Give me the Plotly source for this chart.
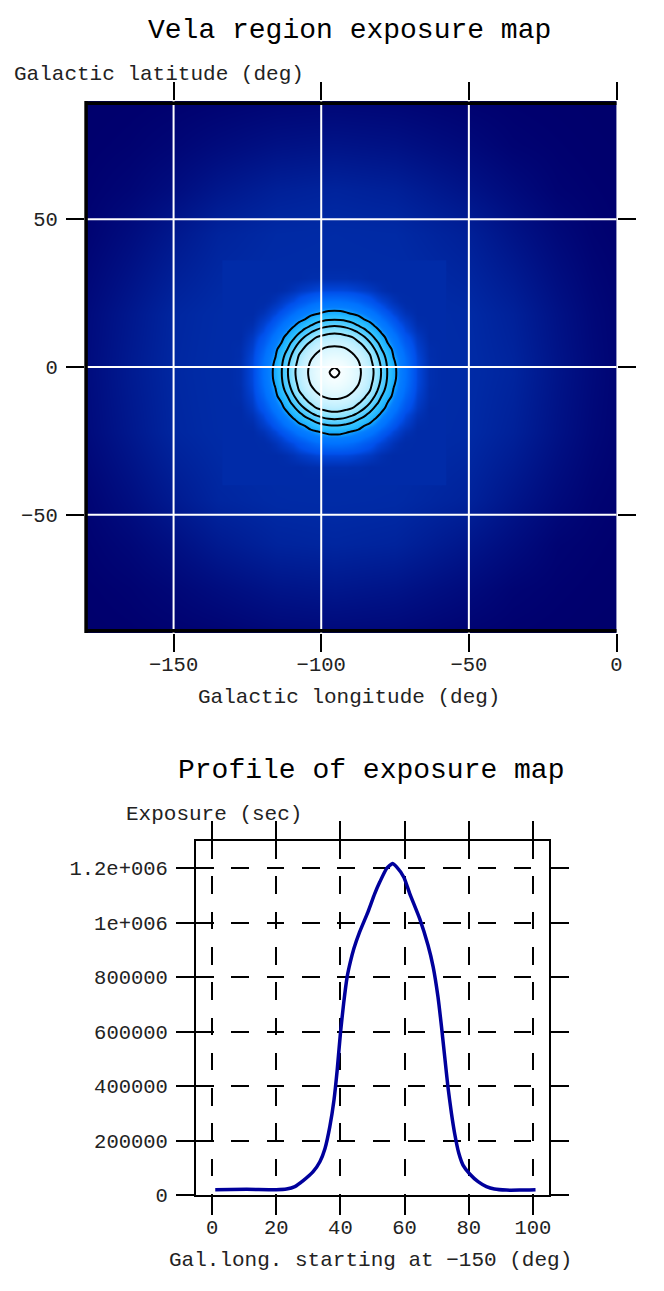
import numpy as np
import plotly.graph_objects as go

WIDTH = 664
HEIGHT = 1291
FONT = "Liberation Mono"
TEXT_COLOR = "#222222"

# broad exposure of the map, thousands of seconds, one row per latitude node
bg_lon = [-180, -165, -150, -135, -115, -95.5, -75, -50, -35, -20, -8, 0]
bg_lat = [-90, -75, -60, -45, -22, -1.9, 18, 45, 60, 75, 90]
bg_exposure_k = [
    [3.4, 3.9, 4.6, 5.3, 7, 7.5, 7, 5, 4.2, 3.7, 3.2, 3],
    [3.9, 4.9, 6.7, 9, 11.8, 12.8, 11.7, 8.2, 5.6, 4.5, 3.8, 3.5],
    [4.7, 6.9, 10.2, 14, 17.5, 18.4, 17.4, 12.5, 9, 5.5, 4.5, 3.9],
    [5.6, 9.5, 14.2, 18.3, 20.3, 20.7, 20.2, 17, 12.3, 8, 5.3, 4.5],
    [8, 13, 18.4, 20.6, 21.5, 21.5, 21.5, 20, 16.5, 11, 7, 5.3],
    [8.5, 14, 19, 21, 21.5, 21.5, 21.5, 20.5, 17.9, 11.9, 7.7, 5.5],
    [8, 13, 18.4, 20.6, 21.5, 21.5, 21.5, 20, 16.5, 11, 7, 5.3],
    [5.2, 8.8, 13.3, 17.5, 19.9, 20.4, 19.9, 16, 11.5, 7.5, 5, 4.2],
    [4.4, 6.2, 9.2, 12.8, 16.2, 17.5, 16.2, 11.5, 8.2, 5.2, 4.3, 3.8],
    [3.7, 4.6, 6.2, 8.3, 10.6, 11.5, 10.6, 7.5, 5.2, 4.3, 3.6, 3.3],
    [3.2, 3.7, 4.3, 5, 6, 6.5, 6, 4.6, 4, 3.5, 3.1, 3],
]

# bright spot: one quadrant, offsets in deg from the centre, mirrored below
core_lon0 = -95.5
core_lat0 = -1.9
core_offsets = [0, 2, 4, 6, 8, 10, 12, 14, 16, 18, 20, 22, 24, 28, 32, 36]
core_quadrant_k = [
    [1235, 1193, 1145, 1090, 1035, 961, 871, 756, 580, 386, 243, 150, 100, 43, 24, 21],
    [1193, 1173, 1132, 1081, 1027, 953, 863, 744, 568, 378, 236, 148, 99, 43, 24, 21],
    [1145, 1132, 1099, 1057, 1005, 930, 840, 708, 531, 354, 214, 141, 95, 42, 24, 21],
    [1090, 1081, 1057, 1019, 961, 888, 804, 650, 471, 316, 190, 130, 88, 40, 23, 21],
    [1035, 1027, 1005, 961, 905, 833, 720, 568, 394, 264, 166, 115, 79, 37, 23, 21],
    [961, 953, 930, 888, 833, 744, 616, 460, 324, 201, 141, 97, 68, 34, 22, 21],
    [871, 863, 840, 804, 720, 616, 483, 354, 243, 163, 117, 83, 58, 31, 21, 21],
    [756, 744, 708, 650, 568, 460, 354, 257, 176, 130, 93, 67, 46, 27, 21, 21],
    [580, 568, 531, 471, 394, 324, 243, 176, 134, 99, 74, 53, 39, 24, 21, 21],
    [386, 378, 354, 316, 264, 201, 163, 130, 99, 77, 57, 41, 33, 22, 21, 21],
    [243, 236, 214, 190, 166, 141, 117, 93, 74, 57, 42, 34, 27, 21, 21, 21],
    [150, 148, 141, 130, 115, 97, 83, 67, 53, 41, 34, 28, 23, 21, 21, 21],
    [100, 99, 95, 88, 79, 68, 58, 46, 39, 33, 27, 23, 21.5, 21, 21, 21],
    [43, 43, 42, 40, 37, 34, 31, 27, 24, 22, 21, 21, 21, 21, 21, 21],
    [24, 24, 24, 23, 23, 22, 21, 21, 21, 21, 21, 21, 21, 21, 21, 21],
    [21, 21, 21, 21, 21, 21, 21, 21, 21, 21, 21, 21, 21, 21, 21, 21],
]

contour_start_k = 200
contour_end_k = 1200
contour_step_k = 200

# colour table of the map, exposure in thousands of seconds
color_levels_k = [0, 4, 10, 20, 30, 50, 100, 150, 200, 300, 500, 700, 900, 1100, 1235]
color_values = ["#000064", "#00006e", "#000f82", "#002aa5", "#0037be", "#0050eb", "#0073ff", "#0580ff",
                "#14a8ff", "#28bcff", "#50ccff", "#8ae3ff", "#c2f0ff", "#e8fbff", "#ffffff"]

# profile through the map
profile_x = [1, 10.8, 20, 23.2, 25.8, 28.4, 31.5, 33.6, 35.2, 36.7, 38, 39, 40, 41, 42.1, 43.1, 44.2,
             46, 48.6, 50.7, 52.3, 54.4, 56.2, 57.5, 59.8, 61.6, 64.7, 67.3, 68.9, 70.4, 71.5, 72.5,
             73.5, 74.6, 75.6, 76.9, 78.2, 80.3, 82.9, 85.5, 88, 91.7, 95.8, 100.8]
profile_y = [19600, 20800, 19600, 22000, 30600, 52600, 85600, 122000, 171000, 251000, 349000, 459000,
             593000, 703000, 801000, 856000, 905000, 966000, 1040000, 1107000, 1150000, 1199000,
             1217000, 1205000, 1166000, 1107000, 1015000, 917000, 838000, 728000, 618000, 508000,
             398000, 300000, 226000, 153000, 110000, 77000, 49000, 31000, 22000, 18000, 18000, 19600]

map_xticks = [-150, -100, -50, 0]
map_yticks = [-50, 0, 50]
profile_xticks = [0, 20, 40, 60, 80, 100]
profile_yticks = [0, 200000, 400000, 600000, 800000, 1000000, 1200000]
profile_yticktext = ["0", "200000", "400000", "600000", "800000", "1e+006", "1.2e+006"]


def px_x(px):
    return px / WIDTH


def px_y(px):
    return 1 - px / HEIGHT


def add_text(fig, text, left, center_y, size, color=TEXT_COLOR):
    fig.add_annotation(text=text, xref="paper", yref="paper", x=px_x(left), y=px_y(center_y),
                       xanchor="left", yanchor="middle", showarrow=False,
                       font=dict(family=FONT, size=size, color=color))


# mirror the quadrant of the bright spot to the whole spot
offsets = np.array(core_offsets)
both_sides = np.concatenate([-offsets[:0:-1], offsets])
core_lon = core_lon0 + both_sides
core_lat = core_lat0 + both_sides
quadrant = np.array(core_quadrant_k)
half = np.hstack([quadrant[:, :0:-1], quadrant])
core_z = np.vstack([half[:0:-1], half]) * 1000
bg_z = np.array(bg_exposure_k) * 1000

colorscale = [[lv / color_levels_k[-1], c] for lv, c in zip(color_levels_k, color_values)]
zmax = color_levels_k[-1] * 1000

fig = go.Figure()
fig.add_trace(go.Heatmap(x=bg_lon, y=bg_lat, z=bg_z, zsmooth="best", showscale=False,
                         colorscale=colorscale, zmin=0, zmax=zmax, xaxis="x", yaxis="y"))
fig.add_trace(go.Heatmap(x=core_lon, y=core_lat, z=core_z, zsmooth="best", showscale=False,
                         colorscale=colorscale, zmin=0, zmax=zmax, xaxis="x", yaxis="y"))
fig.add_trace(go.Contour(x=core_lon, y=core_lat, z=core_z, showscale=False, autocontour=False,
                         contours=dict(coloring="none", start=contour_start_k * 1000,
                                       end=contour_end_k * 1000, size=contour_step_k * 1000),
                         line=dict(color="black", width=2, smoothing=1),
                         xaxis="x", yaxis="y"))
fig.add_trace(go.Scatter(x=profile_x, y=profile_y, mode="lines",
                         line=dict(color="#00009c", width=3.5, shape="spline", smoothing=0.5),
                         xaxis="x2", yaxis="y2"))

# the grid of the map runs over the image
for lon in map_xticks[:-1]:
    fig.add_shape(type="line", xref="x", yref="y domain", x0=lon, x1=lon, y0=0, y1=1,
                  line=dict(color="white", width=2), layer="above")
for lat in map_yticks:
    fig.add_shape(type="line", xref="x domain", yref="y", x0=0, x1=1, y0=lat, y1=lat,
                  line=dict(color="white", width=2), layer="above")
fig.add_shape(type="line", xref="x", yref="y domain", x0=map_xticks[-1], x1=map_xticks[-1], y0=0, y1=1,
              line=dict(color="rgba(255,255,255,0.35)", width=1), layer="above")

# black edge of the image on three sides
fig.add_shape(type="line", xref="x domain", yref="y domain", x0=0.002, x1=0.002, y0=0, y1=1,
              line=dict(color="black", width=3.5), layer="above")
fig.add_shape(type="line", xref="x domain", yref="y domain", x0=0, x1=1, y0=0.004, y1=0.004,
              line=dict(color="black", width=3.5), layer="above")
fig.add_shape(type="line", xref="x domain", yref="y domain", x0=0, x1=1, y0=0.996, y1=0.996,
              line=dict(color="black", width=3.5), layer="above")

tick_style = dict(ticks="outside", ticklen=18, tickwidth=2, tickcolor="black", zeroline=False,
                  tickfont=dict(family=FONT, size=20.5, color=TEXT_COLOR), tickmode="array")

fig.update_layout(
    width=WIDTH, height=HEIGHT, autosize=False, showlegend=False,
    margin=dict(l=0, r=0, t=0, b=0, autoexpand=False),
    paper_bgcolor="white", plot_bgcolor="white",
    xaxis=dict(domain=[px_x(85), px_x(616.5)], range=[-180, 0], tickvals=map_xticks, ticklabelstandoff=-6,
               anchor="y", showgrid=False, showline=False, mirror="ticks", **tick_style),
    yaxis=dict(domain=[px_y(633), px_y(101)], range=[-90, 90], tickvals=map_yticks, ticklabelstandoff=4,
               anchor="x", showgrid=False, showline=False, mirror="ticks", **tick_style),
    xaxis2=dict(domain=[px_x(196), px_x(549)], range=[-5, 105], tickvals=profile_xticks, ticklabelstandoff=-6,
                anchor="y2", showgrid=True, gridcolor="black", gridwidth=2, griddash="17.6px,17.7px",
                showline=True, linecolor="black", linewidth=2, mirror="ticks", **tick_style),
    yaxis2=dict(domain=[px_y(1195), px_y(841)], range=[0, 1300000], tickvals=profile_yticks, ticklabelstandoff=4,
                ticktext=profile_yticktext, anchor="x2", showgrid=True, gridcolor="black", gridwidth=2,
                griddash="17.6px,17.7px", showline=True, linecolor="black", linewidth=2, mirror="ticks",
                **tick_style),
)

add_text(fig, "Vela region exposure map", 146, 30, 28, "black")
add_text(fig, "Galactic latitude (deg)", 12, 74, 21)
add_text(fig, "Galactic longitude (deg)", 196, 697, 21)
add_text(fig, "Profile of exposure map", 176, 770, 28, "black")
add_text(fig, "Exposure (sec)", 124, 814, 21)
add_text(fig, "Gal.long. starting at \u2212150 (deg)", 167, 1260, 21)

fig.write_html("out.html", config=dict(displayModeBar=False),
               post_script="document.body.style.margin='0';")
